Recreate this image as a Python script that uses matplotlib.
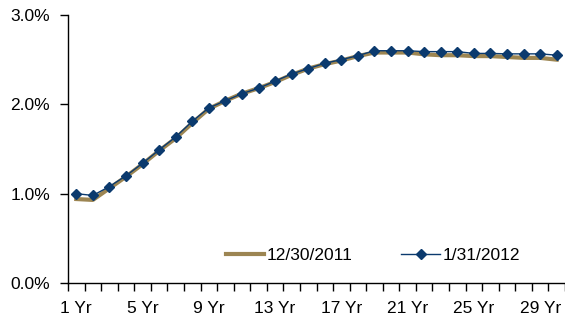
import matplotlib
matplotlib.use("Agg")
import matplotlib.pyplot as plt
from matplotlib.ticker import FixedLocator, FuncFormatter

plt.rcParams['font.family'] = ['Liberation Sans', 'DejaVu Sans']

maturities = [f"{i} Yr" for i in range(1, 31)]
yield_2011 = [0.94, 0.93, 1.06, 1.19, 1.33, 1.48, 1.62, 1.79, 1.95, 2.04, 2.12, 2.18, 2.25, 2.33,
              2.40, 2.45, 2.49, 2.54, 2.58, 2.58, 2.58, 2.56, 2.55, 2.55, 2.54, 2.54, 2.53, 2.52,
              2.52, 2.50]
yield_2012 = [1.00, 0.98, 1.08, 1.20, 1.34, 1.49, 1.635, 1.81, 1.96, 2.04, 2.12, 2.18, 2.26, 2.34,
              2.40, 2.46, 2.50, 2.545, 2.60, 2.60, 2.60, 2.59, 2.59, 2.59, 2.57, 2.57, 2.565, 2.565,
              2.565, 2.55]
series_labels = ["12/30/2011", "1/31/2012"]
y_ticks = [0.0, 1.0, 2.0, 3.0]

fig = plt.figure(figsize=(5.65, 3.2), dpi=100)
ax = fig.add_axes([68 / 565, 37 / 320, 497 / 565, 268 / 320])

x = list(range(len(maturities)))
ax.plot(x, yield_2011, color='#9C8552', lw=3.0, label=series_labels[0], zorder=2)
ax.plot(x, yield_2012, color='#0B3A6E', lw=1.0, marker='D', ms=5,
        markeredgecolor='#0B3A6E', markerfacecolor='#0B3A6E', label=series_labels[1], zorder=3)

ax.set_xlim(-0.5, len(maturities) - 0.5)
ax.set_ylim(0, 3.0)

ax.set_yticks(y_ticks)
ax.yaxis.set_major_formatter(FuncFormatter(lambda v, p: f"{v:.1f}%"))

label_pos = x[::4]
ax.xaxis.set_major_locator(FixedLocator(label_pos))
ax.set_xticklabels([maturities[i] for i in label_pos])
ax.xaxis.set_minor_locator(FixedLocator([i - 0.5 for i in range(len(maturities) + 1)]))
ax.tick_params(axis='x', which='major', length=0, pad=13, labelsize=12.5)
ax.tick_params(axis='x', which='minor', length=6, width=1, direction='out')
ax.tick_params(axis='y', which='major', length=6, width=1, pad=7, labelsize=12.5)

for side in ('top', 'right'):
    ax.spines[side].set_visible(False)
for side in ('left', 'bottom'):
    ax.spines[side].set_linewidth(1.0)

ax.legend(loc='center left', bbox_to_anchor=(0.30, 0.104), ncol=2, frameon=False,
          borderpad=0, handlelength=2.2, handletextpad=0.17, columnspacing=2.8,
          fontsize=12.5)

fig.savefig("out.png", dpi=100)
